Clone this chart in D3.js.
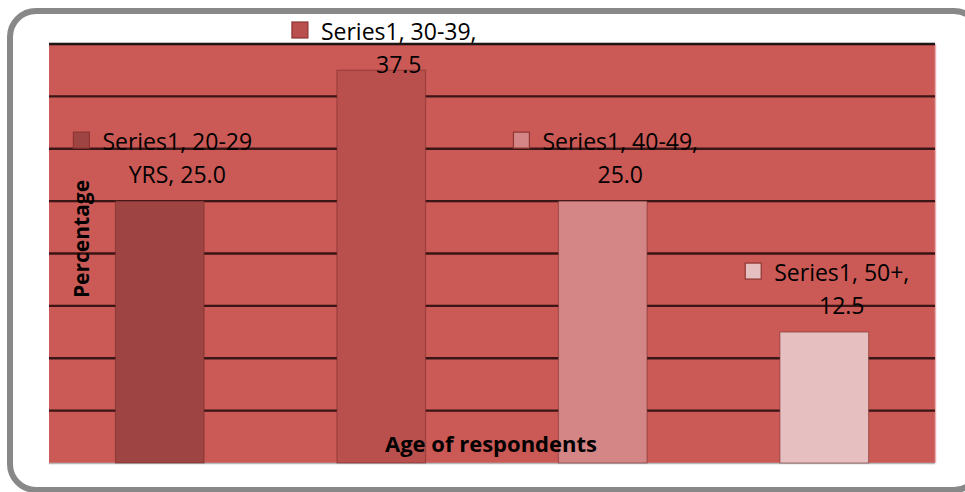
<!DOCTYPE html>
<html>
<head>
<meta charset="utf-8">
<script src="https://cdn.jsdelivr.net/npm/d3@7/dist/d3.min.js"></script>
<style>
  html, body { margin: 0; padding: 0; background: #ffffff; overflow: hidden; }
  svg { display: block; }
</style>
</head>
<body>
<svg id="chart" width="965" height="492"></svg>
<script>
// Respondents by age group
const seriesName = "Series1";
const categories = ["20-29 YRS", "30-39", "40-49", "50+"];
const values = [25.0, 37.5, 25.0, 12.5];
const barColors = ["#9e4442", "#ba504d", "#d48585", "#e6c0c0"];
const gridTicks = [0, 5, 10, 15, 20, 25, 30, 35, 40];
const xTitle = "Age of respondents";
const yTitle = "Percentage";

const svg = d3.select("#chart");
const plot = { left: 49, right: 935, top: 44, bottom: 463 };
const font = "'Open Sans', 'Noto Sans', sans-serif";

const x = d3.scaleBand()
  .domain(categories)
  .range([plot.left, plot.right])
  .paddingInner(0.6)
  .paddingOuter(0.3);

const y = d3.scaleLinear()
  .domain([0, 40])
  .range([plot.bottom, plot.top]);

const defs = svg.append("defs");
defs.append("filter").attr("id", "soft")
  .append("feGaussianBlur").attr("stdDeviation", 0.6);

// Outer frame (runs past the right edge of the canvas)
svg.append("rect")
  .attr("x", 10).attr("y", 11)
  .attr("width", 970).attr("height", 479)
  .attr("rx", 26).attr("ry", 26)
  .attr("fill", "#ffffff")
  .attr("stroke", "#888888")
  .attr("stroke-width", 6);

// Plot background
svg.append("rect")
  .attr("x", plot.left).attr("y", plot.top)
  .attr("width", plot.right - plot.left)
  .attr("height", plot.bottom - plot.top)
  .attr("fill", "#cb5a56");

// Faint edge on the right side of the plot area
svg.append("line")
  .attr("x1", plot.right + 0.5).attr("x2", plot.right + 0.5)
  .attr("y1", plot.top).attr("y2", plot.bottom)
  .attr("stroke", "#e8b0b0").attr("stroke-width", 1.5);

// Horizontal gridlines
svg.append("g")
  .attr("filter", "url(#soft)")
  .selectAll("line")
  .data(gridTicks.filter(t => t > 0))
  .join("line")
  .attr("x1", plot.left).attr("x2", plot.right)
  .attr("y1", d => y(d)).attr("y2", d => y(d))
  .attr("stroke", d => d === 40 ? "#1c1414" : "#3a1616")
  .attr("stroke-width", 2.4);

// Bottom axis line
svg.append("line")
  .attr("x1", plot.left).attr("x2", plot.right)
  .attr("y1", plot.bottom + 0.5).attr("y2", plot.bottom + 0.5)
  .attr("stroke", "#b8b8b8").attr("stroke-width", 1.5);

// Bars
svg.append("g")
  .selectAll("rect")
  .data(values)
  .join("rect")
  .attr("x", (d, i) => x(categories[i]))
  .attr("y", d => y(d))
  .attr("width", x.bandwidth())
  .attr("height", d => y(0) - y(d))
  .attr("fill", (d, i) => barColors[i])
  .attr("stroke", "rgba(110,40,38,0.45)")
  .attr("stroke-width", 1.2);

// Axis titles
svg.append("text")
  .attr("transform", `translate(89, 239) rotate(-90)`)
  .attr("text-anchor", "middle")
  .attr("font-family", font)
  .attr("font-weight", "bold")
  .attr("font-size", 21)
  .attr("fill", "#000")
  .text(yTitle);

svg.append("text")
  .attr("x", 491).attr("y", 452)
  .attr("text-anchor", "middle")
  .attr("font-family", font)
  .attr("font-weight", "bold")
  .attr("font-size", 22)
  .attr("fill", "#000")
  .text(xTitle);

// Data labels with legend keys
const labelSize = 23;
const wrapWidth = 175;
const lineGap = 33;
const keySize = 16;
const keyGap = 13;

const measure = svg.append("text")
  .attr("font-family", font).attr("font-size", labelSize)
  .attr("visibility", "hidden");
function textWidth(s) { measure.text(s); return measure.node().getComputedTextLength(); }

function wrap(str) {
  const words = str.split(" ");
  const lines = [];
  let cur = "";
  words.forEach(w => {
    const trial = cur ? cur + " " + w : w;
    if (cur && textWidth(trial) > wrapWidth) { lines.push(cur); cur = w; }
    else cur = trial;
  });
  if (cur) lines.push(cur);
  return lines;
}

const labels = svg.append("g");
values.forEach((v, i) => {
  const cat = categories[i];
  const lines = wrap(`${seriesName}, ${cat}, ${v.toFixed(1)}`);
  const widths = lines.map(textWidth);
  const textW = d3.max(widths);
  const blockW = keySize + keyGap + textW;
  const cx = x(cat) + x.bandwidth() / 2 + 3;
  const left = cx - blockW / 2;
  const textLeft = left + keySize + keyGap;
  const textCenter = textLeft + textW / 2;
  let first = y(v) - 18 - lineGap * (lines.length - 1);
  first = Math.max(first, 40);

  labels.append("rect")
    .attr("x", left).attr("y", first - 18)
    .attr("width", keySize).attr("height", keySize)
    .attr("fill", barColors[i])
    .attr("stroke", "#8e3532").attr("stroke-width", 1.2);

  lines.forEach((ln, k) => {
    labels.append("text")
      .attr("x", k === 0 ? textLeft : textCenter)
      .attr("y", first + k * lineGap)
      .attr("text-anchor", k === 0 ? "start" : "middle")
      .attr("font-family", font)
      .attr("font-size", labelSize)
      .attr("fill", "#000")
      .text(ln);
  });
});
measure.remove();
</script>
</body>
</html>
